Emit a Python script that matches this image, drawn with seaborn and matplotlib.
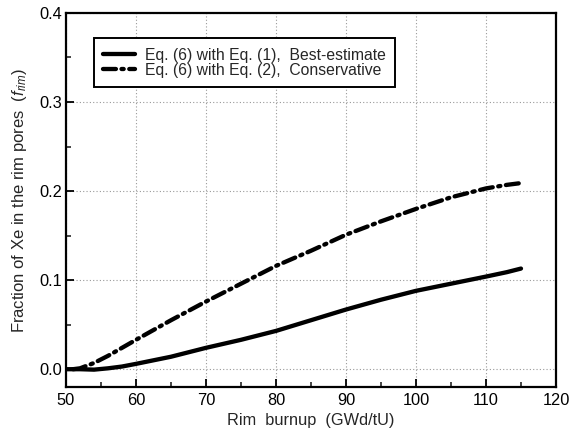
import matplotlib
matplotlib.use("Agg")
import matplotlib.pyplot as plt
from matplotlib.ticker import MultipleLocator, FormatStrFormatter
import seaborn as sns
import pandas as pd

# Rim burnup grid (GWd/tU)
burnup = [50, 52, 54, 56, 58, 60, 65, 70, 75, 80, 85, 90, 95, 100, 105, 110, 113, 115]
# Eq. (6) with Eq. (1): best-estimate fraction of Xe in rim pores
f_best = [0.0, 0.0, -0.0005, 0.001, 0.003, 0.006, 0.014, 0.024, 0.033, 0.043,
          0.055, 0.067, 0.078, 0.088, 0.096, 0.104, 0.109, 0.113]
# Eq. (6) with Eq. (2): conservative fraction of Xe in rim pores
burnup_cons = [51, 52, 54, 56, 58, 60, 65, 70, 75, 80, 85, 90, 95, 100, 105, 110, 113, 115]
f_cons = [0.0, 0.001, 0.007, 0.015, 0.024, 0.033, 0.055, 0.076, 0.096, 0.116,
          0.133, 0.151, 0.166, 0.180, 0.193, 0.203, 0.207, 0.209]

label_best = "Eq. (6) with Eq. (1),  Best-estimate"
label_cons = "Eq. (6) with Eq. (2),  Conservative"

sns.set_style("ticks")
plt.rcParams["font.family"] = ["Liberation Sans", "DejaVu Sans"]
plt.rcParams["mathtext.fontset"] = "custom"
plt.rcParams["mathtext.rm"] = "Liberation Sans"
plt.rcParams["mathtext.it"] = "Liberation Sans:italic"

df_best = pd.DataFrame({"burnup": burnup, "f": f_best})
df_cons = pd.DataFrame({"burnup": burnup_cons, "f": f_cons})

fig = plt.figure(figsize=(5.7, 4.38), dpi=100)
ax = fig.add_axes([0.1158, 0.1164, 0.8596, 0.854])

sns.lineplot(data=df_best, x="burnup", y="f", ax=ax, color="black",
             linewidth=3.1, solid_capstyle="round", label=label_best)
sns.lineplot(data=df_cons, x="burnup", y="f", ax=ax, color="black",
             linewidth=3.1, dashes=False, label=label_cons)
ax.lines[-1].set_dashes([3.0, 1.3, 0.5, 1.3])
ax.lines[-1].set_dash_capstyle("round")

ax.set_xlim(50, 120)
ax.set_ylim(-0.02, 0.4)
ax.xaxis.set_major_locator(MultipleLocator(10))
ax.xaxis.set_minor_locator(MultipleLocator(5))
ax.yaxis.set_major_locator(MultipleLocator(0.1))
ax.yaxis.set_minor_locator(MultipleLocator(0.05))
ax.yaxis.set_major_formatter(FormatStrFormatter("%.1f"))

ax.grid(True, which="major", linestyle=(0, (1, 2)), color="#999999", linewidth=0.8)
ax.tick_params(which="major", direction="in", length=6, width=1.3, labelsize=11.8,
               colors="black", pad=4)
ax.tick_params(axis="y", which="major", pad=3)
ax.tick_params(which="minor", direction="in", length=3.5, width=1.2)

for s in ax.spines.values():
    s.set_linewidth(1.6)
    s.set_color("black")

ax.set_xlabel("Rim  burnup  (GWd/tU)", fontsize=11.8, labelpad=4)
ax.set_ylabel(r"Fraction of Xe in the rim pores  ($f_{rim}$)", fontsize=12, labelpad=7)

leg = ax.legend(loc="upper left", bbox_to_anchor=(0.057, 0.932), fontsize=11.3,
                frameon=True, fancybox=False, edgecolor="black", framealpha=1,
                handlelength=2.0, borderpad=0.6, labelspacing=0.0,
                handletextpad=0.65, borderaxespad=0)
leg._legend_box.align = "left"
leg.get_frame().set_linewidth(1.4)

fig.savefig("out.png", dpi=100)
